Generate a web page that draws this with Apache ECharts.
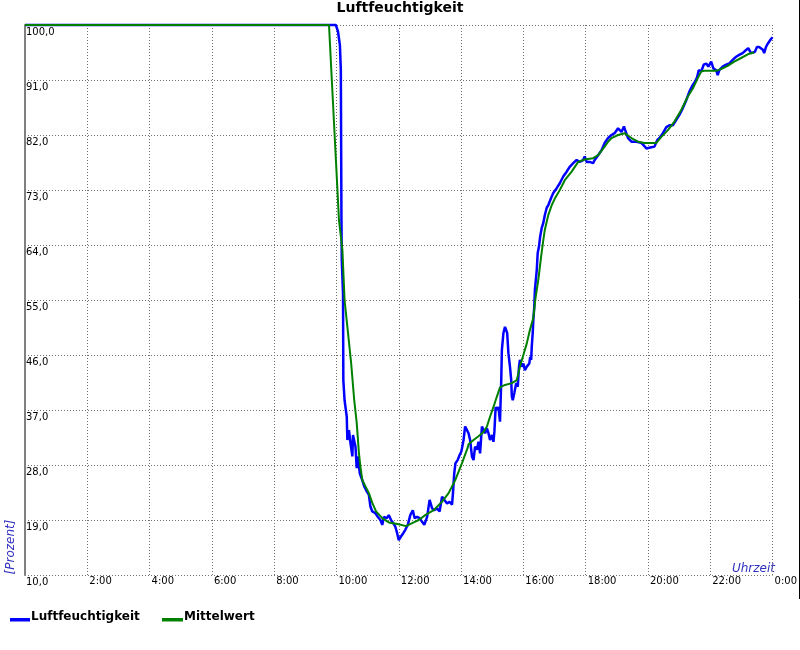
<!DOCTYPE html>
<html>
<head>
<meta charset="utf-8">
<script src="https://cdn.jsdelivr.net/npm/echarts@6/dist/echarts.min.js"></script>
<style>html,body{margin:0;padding:0;background:#fff;}#c{width:800px;height:650px;}</style>
</head>
<body>
<div id="c"></div>
<script>
// Time of day in hours
const humidityTime = [0, 9.98, 10.05, 10.11, 10.14, 10.16, 10.17, 10.21, 10.22, 10.26, 10.33, 10.35, 10.4, 10.45, 10.51, 10.53, 10.56, 10.61, 10.65, 10.69, 10.75, 10.83, 10.9, 10.95, 11.04, 11.09, 11.15, 11.2, 11.25, 11.33, 11.41, 11.47, 11.52, 11.61, 11.68, 11.75, 11.82, 11.89, 11.95, 12.0, 12.07, 12.14, 12.21, 12.29, 12.37, 12.45, 12.51, 12.59, 12.67, 12.75, 12.82, 12.91, 12.99, 13.07, 13.14, 13.23, 13.31, 13.39, 13.46, 13.55, 13.63, 13.71, 13.74, 13.78, 13.82, 13.89, 13.95, 14.01, 14.03, 14.08, 14.13, 14.19, 14.24, 14.29, 14.35, 14.4, 14.45, 14.51, 14.56, 14.61, 14.67, 14.72, 14.77, 14.83, 14.88, 14.93, 14.99, 15.04, 15.07, 15.11, 15.15, 15.2, 15.25, 15.29, 15.31, 15.36, 15.41, 15.45, 15.48, 15.52, 15.57, 15.61, 15.63, 15.66, 15.71, 15.77, 15.82, 15.86, 15.89, 15.95, 16.0, 16.05, 16.11, 16.16, 16.19, 16.22, 16.25, 16.27, 16.3, 16.32, 16.35, 16.37, 16.43, 16.46, 16.5, 16.54, 16.59, 16.64, 16.69, 16.75, 16.8, 16.89, 16.96, 17.07, 17.17, 17.28, 17.39, 17.49, 17.6, 17.71, 17.81, 17.92, 17.97, 18.03, 18.13, 18.24, 18.29, 18.4, 18.51, 18.61, 18.72, 18.83, 18.93, 19.04, 19.09, 19.15, 19.23, 19.27, 19.36, 19.47, 19.52, 19.63, 19.71, 19.79, 19.84, 19.95, 20.0, 20.11, 20.21, 20.3, 20.37, 20.48, 20.59, 20.69, 20.8, 20.91, 21.01, 21.12, 21.23, 21.33, 21.44, 21.51, 21.58, 21.63, 21.71, 21.79, 21.87, 21.94, 22.03, 22.1, 22.19, 22.24, 22.29, 22.4, 22.51, 22.61, 22.72, 22.83, 22.93, 23.04, 23.15, 23.22, 23.31, 23.36, 23.43, 23.5, 23.57, 23.63, 23.7, 23.73, 23.79, 23.84, 23.9, 23.95, 24.0];
const humidityValue = [100, 100, 98.9, 96.7, 92.6, 68.1, 61.5, 56.1, 41.9, 38.6, 35.9, 32.1, 33.7, 31.6, 29.4, 32.9, 32.9, 31.0, 27.5, 29.4, 26.6, 25.5, 24.4, 23.9, 23.1, 21.2, 20.4, 20.6, 20.1, 19.5, 19.0, 18.2, 19.5, 19.3, 19.8, 19.0, 18.5, 17.9, 16.8, 15.7, 16.3, 16.8, 17.4, 18.2, 19.8, 20.6, 19.3, 19.5, 19.3, 18.7, 18.2, 19.5, 22.3, 20.9, 20.6, 20.9, 20.4, 22.8, 22.3, 21.7, 22.0, 21.5, 23.4, 26.6, 28.3, 28.8, 29.6, 30.2, 30.0, 32.1, 34.3, 33.7, 33.2, 32.1, 29.4, 28.8, 31.0, 30.5, 31.8, 29.9, 34.3, 34.5, 33.2, 34.0, 33.2, 32.1, 32.9, 31.8, 33.5, 37.5, 37.0, 37.5, 35.1, 41.9, 46.8, 49.6, 50.6, 50.9, 49.6, 46.3, 44.1, 41.9, 39.2, 38.6, 39.8, 41.4, 40.8, 44.1, 45.2, 44.1, 44.6, 43.5, 44.1, 43.8, 44.6, 45.7, 45.2, 47.4, 49.6, 51.7, 53.9, 56.6, 59.9, 62.7, 63.7, 65.4, 66.8, 67.6, 68.9, 70.1, 70.5, 71.7, 72.5, 73.3, 74.1, 75.2, 76.0, 76.8, 77.4, 77.9, 77.6, 77.9, 78.5, 77.6, 77.6, 77.4, 77.9, 78.7, 79.5, 80.7, 81.5, 82.0, 82.3, 83.1, 83.4, 82.5, 83.4, 82.8, 81.5, 80.9, 80.6, 80.9, 80.8, 80.7, 80.6, 79.8, 79.5, 80.0, 80.1, 81.2, 81.5, 82.3, 83.3, 83.6, 83.6, 84.5, 85.3, 86.4, 87.7, 89.1, 90.2, 90.7, 91.5, 92.6, 92.4, 93.5, 93.7, 93.2, 94.0, 92.9, 92.6, 91.8, 92.6, 93.2, 93.5, 93.7, 94.3, 94.8, 95.1, 95.4, 95.9, 96.2, 95.4, 95.1, 95.6, 96.4, 96.4, 96.6, 95.9, 95.4, 96.4, 96.9, 97.2, 97.7, 98.0];

const meanTime = [0, 9.76, 10.08, 10.19, 10.26, 10.36, 10.47, 10.57, 10.65, 10.72, 10.77, 10.83, 11.04, 11.15, 11.27, 11.47, 11.68, 12.0, 12.23, 12.43, 12.64, 12.85, 13.12, 13.39, 13.6, 13.81, 14.03, 14.21, 14.24, 14.4, 14.56, 14.72, 14.83, 14.93, 15.04, 15.15, 15.25, 15.41, 15.63, 15.79, 15.89, 16.0, 16.11, 16.21, 16.32, 16.39, 16.48, 16.57, 16.64, 16.69, 16.8, 16.91, 17.01, 17.17, 17.33, 17.55, 17.76, 17.97, 18.24, 18.4, 18.61, 18.72, 18.83, 19.04, 19.25, 19.47, 19.68, 19.89, 20.27, 20.43, 20.64, 20.85, 21.07, 21.28, 21.44, 21.6, 21.71, 21.81, 22.19, 22.35, 22.56, 22.77, 22.99, 23.25, 23.41];
const meanValue = [100, 100, 68.1, 63.2, 55.0, 50.1, 44.7, 38.6, 34.9, 30.0, 27.7, 25.5, 23.4, 21.8, 20.4, 19.3, 18.6, 18.3, 18.0, 18.5, 19.0, 19.8, 20.6, 22.0, 23.4, 25.5, 28.3, 30.8, 31.4, 32.1, 32.7, 33.4, 34.3, 35.9, 37.5, 39.2, 40.7, 41.1, 41.4, 41.9, 44.1, 46.0, 47.9, 50.1, 52.1, 55.3, 58.3, 62.1, 64.8, 66.5, 68.9, 70.5, 71.6, 73.0, 74.6, 76.0, 77.6, 78.0, 78.2, 78.7, 80.1, 80.9, 81.5, 82.0, 82.3, 81.5, 80.9, 80.7, 80.7, 81.7, 82.8, 84.2, 86.1, 88.3, 89.6, 91.3, 92.4, 92.5, 92.5, 92.8, 93.3, 94.0, 94.6, 95.3, 95.5];

const xTickLabels = ['0:00', '2:00', '4:00', '6:00', '8:00', '10:00', '12:00', '14:00', '16:00', '18:00', '20:00', '22:00', '0:00'];
const yTickLabels = ['10,0', '19,0', '28,0', '37,0', '46,0', '55,0', '64,0', '73,0', '82,0', '91,0', '100,0'];

const FONT = 'DejaVu Sans';
const humidityData = humidityTime.map((t, i) => [t, humidityValue[i]]);
const meanData = meanTime.map((t, i) => [t, meanValue[i]]);

const chart = echarts.init(document.getElementById('c'), null, {renderer: 'canvas'});
chart.setOption({
  animation: false,
  backgroundColor: '#ffffff',
  title: {
    text: 'Luftfeuchtigkeit',
    left: 'center', top: 1, padding: 0,
    textStyle: {fontFamily: FONT, fontSize: 14, fontWeight: 'bold', color: '#000'}
  },
  grid: {left: 25, right: 25, top: 25, bottom: 75, containLabel: false},
  xAxis: {
    type: 'value', min: 0, max: 24, interval: 2,
    axisLine: {show: false}, axisTick: {show: false},
    splitLine: {show: true, lineStyle: {color: '#707070', width: 1, type: [1, 2]}},
    axisLabel: {
      showMinLabel: false, showMaxLabel: true, align: 'left', margin: 1, padding: [0, 0, 0, 2],
      fontFamily: FONT, fontSize: 10, color: '#000',
      formatter: v => xTickLabels[Math.round(v / 2)]
    }
  },
  yAxis: {
    type: 'value', min: 10, max: 100, interval: 9,
    axisLine: {show: true, lineStyle: {color: '#808080', width: 2}},
    axisTick: {show: false},
    splitLine: {show: true, lineStyle: {color: '#707070', width: 1, type: [1, 2]}},
    axisLabel: {
      inside: true, margin: 1, verticalAlign: 'top', padding: [2, 0, 0, 0],
      fontFamily: FONT, fontSize: 10, color: '#000',
      formatter: v => yTickLabels[Math.round((v - 10) / 9)]
    }
  },
  series: [
    {name: 'Luftfeuchtigkeit', type: 'line', data: humidityData, showSymbol: false, clip: false,
     lineStyle: {color: '#0000ff', width: 2.5}, itemStyle: {color: '#0000ff'}, z: 2},
    {name: 'Mittelwert', type: 'line', data: meanData, showSymbol: false, clip: false,
     lineStyle: {color: '#008000', width: 2}, itemStyle: {color: '#008000'}, z: 3}
  ],
  graphic: [
    {type: 'text', x: 11, y: 547, rotation: Math.PI / 2,
     style: {text: '[Prozent]', font: 'italic 12px "DejaVu Sans"', fill: '#3030c0', align: 'center', verticalAlign: 'middle'}},
    {type: 'text', x: 775, y: 575,
     style: {text: 'Uhrzeit', font: 'italic 12px "DejaVu Sans"', fill: '#3030c0', align: 'right', verticalAlign: 'bottom'}},
    {type: 'rect', shape: {x: 10, y: 618, width: 20, height: 3.5}, style: {fill: '#0000ff'}},
    {type: 'text', x: 31, y: 617, style: {text: 'Luftfeuchtigkeit', font: 'bold 12px "DejaVu Sans"', fill: '#000', align: 'left', verticalAlign: 'middle'}},
    {type: 'rect', shape: {x: 162, y: 618, width: 21, height: 3.5}, style: {fill: '#008000'}},
    {type: 'text', x: 184, y: 617, style: {text: 'Mittelwert', font: 'bold 12px "DejaVu Sans"', fill: '#000', align: 'left', verticalAlign: 'middle'}},
    {type: 'line', shape: {x1: 799.5, y1: 0, x2: 799.5, y2: 599}, style: {stroke: '#000', lineWidth: 1}, z: 100}
  ]
});
</script>
</body>
</html>
